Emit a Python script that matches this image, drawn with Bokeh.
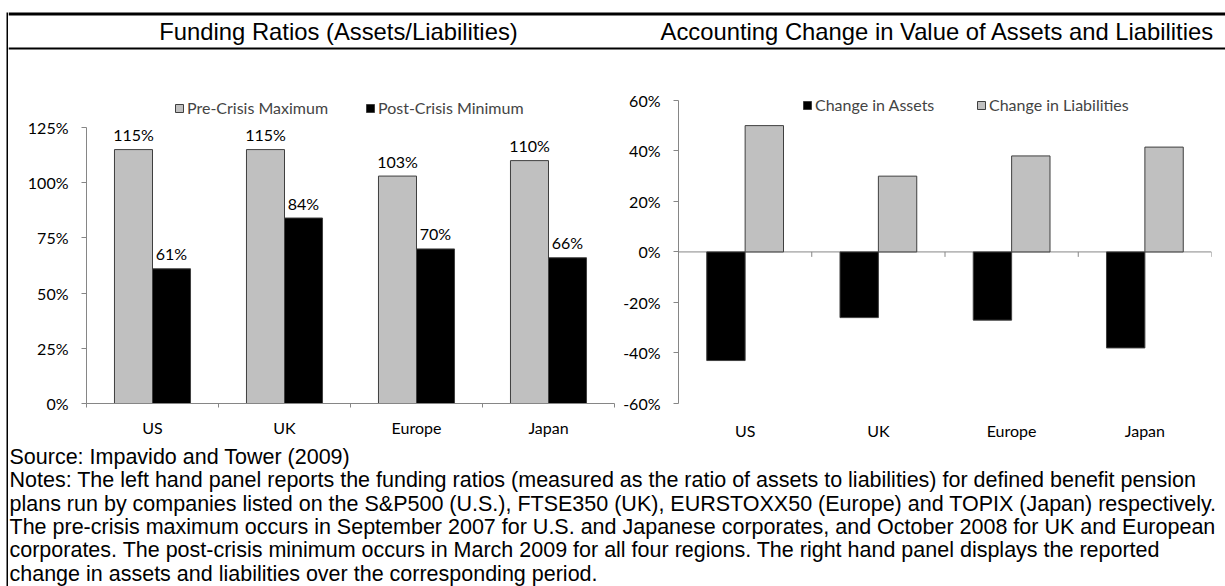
from bokeh.plotting import figure
from bokeh.models import (Range1d, FixedTicker, PrintfTickFormatter, LinearAxis, Legend,
                          LegendItem, ColumnDataSource, LabelSet, Span)
from bokeh.layouts import column, row
from bokeh.core.properties import value
from bokeh.embed import file_html
from bokeh.resources import INLINE

# ---------------- data ----------------
categories = ["US", "UK", "Europe", "Japan"]
pre_crisis_maximum = [115, 115, 103, 110]
post_crisis_minimum = [61, 84, 70, 66]
change_in_assets = [-43, -26, -27, -38]
change_in_liabilities = [50, 30, 38, 41.5]
left_y_ticks = [0, 25, 50, 75, 100, 125]
right_y_ticks = [-60, -40, -20, 0, 20, 40, 60]
left_title = "Funding Ratios (Assets/Liabilities)"
right_title = "Accounting Change in Value of Assets and Liabilities"
left_legend = ["Pre-Crisis Maximum", "Post-Crisis Minimum"]
right_legend = ["Change in Assets", "Change in Liabilities"]
note_lines = [
    "Source: Impavido and Tower (2009)",
    "Notes: The left hand panel reports the funding ratios (measured as the ratio of assets to liabilities) for defined benefit pension",
    "plans run by companies listed on the S&P500 (U.S.), FTSE350 (UK), EURSTOXX50 (Europe) and TOPIX (Japan) respectively.",
    "The pre-crisis maximum occurs in September 2007 for U.S. and Japanese corporates, and October 2008 for UK and European",
    "corporates. The post-crisis minimum occurs in March 2009 for all four regions. The right hand panel displays the reported",
    "change in assets and liabilities over the corresponding period.",
]

# ---------------- style ----------------
GRAY = "#C0C0C0"
BLACK = "#000000"
EDGE = "#3F3F3F"
AXIS = "#868686"
CHART_FONT = "Lato"
CHART_FS = "16px"
TEXT_FONT = "Liberation Sans"
BAR_W = 0.288

n = len(categories)
centers = [i + 0.5 for i in range(n)]
edges = list(range(n + 1))
labels_map = {c: cat for c, cat in zip(centers, categories)}

ROW_H = 391
HEAD_H = 53
NOTES_H = 586 - HEAD_H - ROW_H
BODY_W = 1217


def blank(width, height, x_range, y_range, **kw):
    p = figure(width=width, height=height, output_backend="svg", toolbar_location=None,
               x_range=x_range, y_range=y_range, x_axis_location=None, y_axis_location=None,
               **kw)
    p.grid.visible = False
    p.outline_line_color = None
    p.background_fill_color = "white"
    p.border_fill_color = "white"
    return p


def y_axis(ticks, bounds):
    ax = LinearAxis(ticker=FixedTicker(ticks=ticks, minor_ticks=[]),
                    formatter=PrintfTickFormatter(format="%d%%"), bounds=bounds)
    ax.axis_line_color = AXIS
    ax.major_tick_line_color = AXIS
    ax.major_tick_out = 5
    ax.major_tick_in = 0
    ax.minor_tick_line_color = None
    ax.major_label_standoff = 13
    ax.major_label_text_font = CHART_FONT
    ax.major_label_text_font_size = CHART_FS
    ax.major_label_text_color = "black"
    return ax


def x_axis(with_line, standoff):
    ax = LinearAxis(ticker=FixedTicker(ticks=centers, minor_ticks=edges),
                    major_label_overrides=labels_map)
    ax.major_tick_line_color = None
    ax.major_tick_out = 0
    ax.major_tick_in = 0
    if with_line:
        ax.axis_line_color = AXIS
        ax.minor_tick_line_color = AXIS
        ax.minor_tick_out = 4
        ax.minor_tick_in = 0
    else:
        ax.axis_line_color = None
        ax.minor_tick_line_color = None
    ax.major_label_standoff = standoff
    ax.major_label_text_font = CHART_FONT
    ax.major_label_text_font_size = CHART_FS
    ax.major_label_text_color = "black"
    return ax


def add_legend(p, label, renderer, loc):
    lg = Legend(items=[LegendItem(label=value(label), renderers=[renderer])], location=loc,
                orientation="horizontal", glyph_width=10, glyph_height=10, label_standoff=3,
                padding=0, margin=0, spacing=0, border_line_color=None,
                background_fill_alpha=0, label_text_font=CHART_FONT,
                label_text_font_size=CHART_FS, label_height=18)
    p.add_layout(lg)


# ---------------- left chart ----------------
L_TOP, L_BOT = 32, 41
l_frame_h = ROW_H - L_TOP - L_BOT
l_px = 276 / 125.0
pl = blank(612, ROW_H, Range1d(0, n), Range1d(0, l_frame_h / l_px),
           min_border_left=78, min_border_right=6, min_border_top=L_TOP, min_border_bottom=L_BOT)
pl.add_layout(y_axis(left_y_ticks, (0, 125)), "left")
pl.add_layout(x_axis(True, 10), "below")

src_l = ColumnDataSource(dict(
    x_a=[c - BAR_W / 2 for c in centers],
    x_b=[c + BAR_W / 2 for c in centers],
    a=pre_crisis_maximum,
    b=post_crisis_minimum,
    a_txt=[f"{v}%" for v in pre_crisis_maximum],
    b_txt=[f"{v}%" for v in post_crisis_minimum],
))
r_pre = pl.vbar(x="x_a", top="a", bottom=0, width=BAR_W, source=src_l,
                fill_color=GRAY, line_color=EDGE, line_width=1)
r_post = pl.vbar(x="x_b", top="b", bottom=0, width=BAR_W, source=src_l,
                 fill_color=BLACK, line_color=EDGE, line_width=1)
for xf, yf, tf in (("x_a", "a", "a_txt"), ("x_b", "b", "b_txt")):
    pl.add_layout(LabelSet(x=xf, y=yf, text=tf, source=src_l, text_align="center",
                           text_baseline="middle", y_offset=15,
                           text_font=value(CHART_FONT), text_font_size=value(CHART_FS),
                           text_color="black"))
add_legend(pl, left_legend[0], r_pre, (88, 286))
add_legend(pl, left_legend[1], r_post, (279, 286))

# ---------------- right chart ----------------
R_TOP, R_BOT = 32, 38
r_frame_h = ROW_H - R_TOP - R_BOT
r_px = 306 / 120.0
pr = blank(605, ROW_H, Range1d(0, n), Range1d(-60, -60 + r_frame_h / r_px),
           min_border_left=58, min_border_right=14, min_border_top=R_TOP, min_border_bottom=R_BOT)
pr.add_layout(y_axis(right_y_ticks, (-60, 60)), "left")
pr.add_layout(x_axis(False, 13), "below")
pr.add_layout(Span(location=0, dimension="width", line_color=AXIS, line_width=1, level="underlay"))
tick_len = 5 / r_px
pr.segment(x0=edges, y0=[0] * len(edges), x1=edges, y1=[-tick_len] * len(edges),
           line_color=AXIS, line_width=1)

src_r = ColumnDataSource(dict(
    x_a=[c - BAR_W / 2 for c in centers],
    x_b=[c + BAR_W / 2 for c in centers],
    a=change_in_assets,
    b=change_in_liabilities,
))
r_ass = pr.vbar(x="x_a", top="a", bottom=0, width=BAR_W, source=src_r,
                fill_color=BLACK, line_color=EDGE, line_width=1)
r_lia = pr.vbar(x="x_b", top="b", bottom=0, width=BAR_W, source=src_r,
                fill_color=GRAY, line_color=EDGE, line_width=1)
add_legend(pr, right_legend[0], r_ass, (124, 289))
add_legend(pr, right_legend[1], r_lia, (298, 289))

# ---------------- header ----------------
hd = blank(BODY_W, HEAD_H, Range1d(0, BODY_W), Range1d(HEAD_H, 0), min_border=0)
hd.segment(x0=[0], y0=[13.5], x1=[BODY_W], y1=[13.5], line_color="black", line_width=3)
hd.segment(x0=[0], y0=[48], x1=[BODY_W], y1=[48], line_color="black", line_width=2)
hd.text(x=[330, 929], y=[31, 31], text=[left_title, right_title], text_align="center",
        text_baseline="alphabetic", text_font=value(TEXT_FONT),
        text_font_size=value("23.8px"), text_color="black")

# ---------------- notes ----------------
nt = blank(BODY_W, NOTES_H, Range1d(0, BODY_W), Range1d(NOTES_H, 0), min_border=0)
nt.text(x=[1] * len(note_lines), y=[12.5 + 23.3 * k for k in range(len(note_lines))],
        text=note_lines, text_align="left", text_baseline="middle",
        text_font=value(TEXT_FONT), text_font_size=value("21.5px"), text_color="black")

# ---------------- left border ----------------
bf = blank(8, 586, Range1d(0, 8), Range1d(586, 0), min_border=0)
bf.segment(x0=[7], y0=[12], x1=[7], y1=[586], line_color="black", line_width=2)

layout = row(bf, column(hd, row(pl, pr, spacing=0), nt, spacing=0), spacing=0)

open("out.html", "w").write(file_html(layout, INLINE))
